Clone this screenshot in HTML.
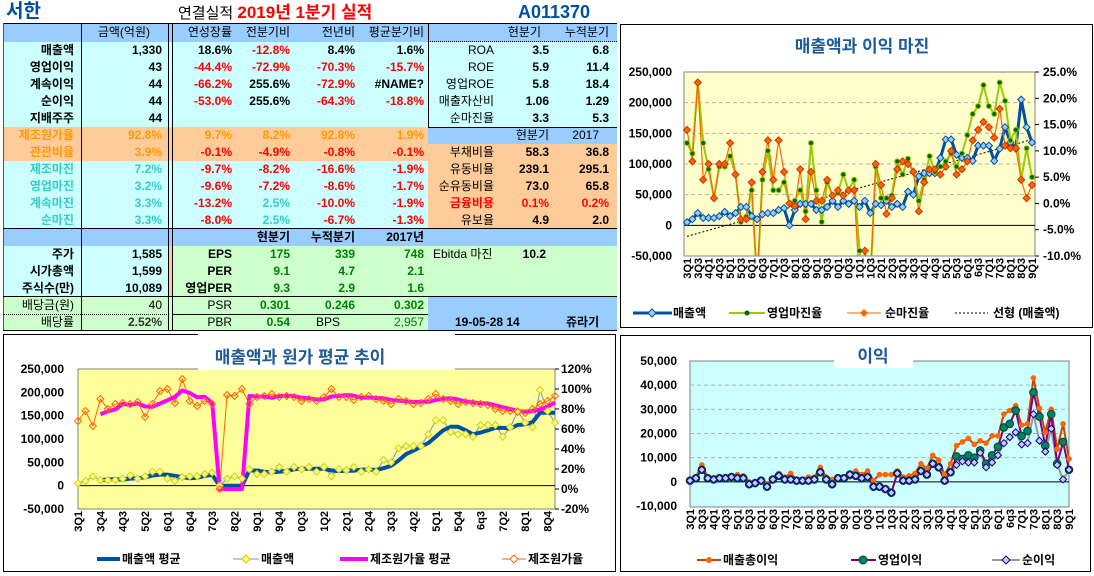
<!DOCTYPE html>
<html><head><meta charset="utf-8">
<style>
*{margin:0;padding:0;box-sizing:border-box}
body{width:1094px;height:576px;background:#fff;position:relative;overflow:hidden;font-family:"Liberation Sans","Noto Sans CJK KR",sans-serif;font-weight:bold;font-size:12px;color:#000}
.a{position:absolute}
.r{position:absolute;height:17px;line-height:17px;white-space:nowrap;overflow:visible}
.c0{left:3px;width:71px;text-align:right}
.c1{left:82px;width:80px;text-align:right}
.c2{left:175px;width:57px;text-align:right}
.c3{left:235px;width:55px;text-align:right}
.c4{left:292px;width:63px;text-align:right}
.c5{left:358px;width:66px;text-align:right}
.c6{left:430px;width:64px;text-align:right;font-weight:normal}
.c7{left:496px;width:53px;text-align:right}
.c8{left:551px;width:58px;text-align:right}
.red{color:#ff0000}.org{color:#ff9900}.cy{color:#33cccc}.grn{color:#008000}
.n{font-weight:normal}
svg text{font-family:"Liberation Sans","Noto Sans CJK KR",sans-serif}
</style></head><body>
<!-- header -->
<div class="a" style="left:6px;top:0;font-size:19px;color:#0050a0;line-height:24px">서한</div>
<div class="a" style="left:178px;top:2px;font-size:15px;line-height:22px"><span class="n" style="font-weight:normal">연결실적</span> <span style="color:#ff0000;font-size:17px">2019년 1분기 실적</span></div>
<div class="a" style="left:518px;top:0;font-size:18px;color:#0050a0;line-height:24px">A011370</div>

<!-- backgrounds -->
<div class="a" style="left:3px;top:24px;width:614px;height:18px;background:#99ccff"></div>
<div class="a" style="left:3px;top:42px;width:614px;height:85px;background:#ccffff"></div>
<div class="a" style="left:3px;top:127px;width:425px;height:34px;background:#ffcc99"></div>
<div class="a" style="left:428px;top:127px;width:189px;height:17px;background:#99ccff"></div>
<div class="a" style="left:428px;top:144px;width:189px;height:85px;background:#ffcc99"></div>
<div class="a" style="left:3px;top:161px;width:425px;height:68px;background:#ccffff"></div>
<div class="a" style="left:3px;top:229px;width:614px;height:17px;background:#99ccff"></div>
<div class="a" style="left:3px;top:246px;width:167px;height:51px;background:#ccffff"></div>
<div class="a" style="left:169px;top:246px;width:4px;height:51px;background:#ffcc99"></div>
<div class="a" style="left:173px;top:246px;width:444px;height:51px;background:#ccffcc"></div>
<div class="a" style="left:3px;top:297px;width:425px;height:34px;background:#ccffcc"></div>
<div class="a" style="left:428px;top:297px;width:189px;height:34px;background:#99ccff"></div>
<!-- lines -->
<div class="a" style="left:3px;top:23px;width:614px;height:1px;background:#000"></div>
<div class="a" style="left:3px;top:23px;width:1px;height:308px;background:#555"></div>
<div class="a" style="left:81px;top:24px;width:1px;height:307px;background:#000"></div>
<div class="a" style="left:168px;top:24px;width:1px;height:307px;background:#000"></div>
<div class="a" style="left:172px;top:24px;width:1px;height:307px;background:#000"></div>
<div class="a" style="left:428px;top:24px;width:1px;height:103px;background:#000"></div>
<div class="a" style="left:428px;top:41px;width:189px;height:0;border-top:1px dotted #000"></div>
<div class="a" style="left:428px;top:228px;width:189px;height:1px;background:#000"></div>
<div class="a" style="left:428px;top:127px;width:189px;height:1px;background:#000"></div>
<div class="a" style="left:3px;top:228px;width:425px;height:1px;background:#000"></div>
<div class="a" style="left:3px;top:296px;width:614px;height:1px;background:#000"></div>
<div class="a" style="left:3px;top:314px;width:166px;height:0;border-top:1px dotted #000"></div>
<div class="a" style="left:173px;top:314px;width:255px;height:1px;background:#000"></div>
<div class="a" style="left:3px;top:330px;width:614px;height:1px;background:#000"></div>

<!-- rows -->
<div class="r c1 n" style="top:24px;font-weight:normal;width:68px">금액(억원)</div>
<div class="r c2 n" style="top:24px;font-weight:normal">연성장률</div>
<div class="r c3 n" style="top:24px;font-weight:normal">전분기비</div>
<div class="r c4 n" style="top:24px;font-weight:normal">전년비</div>
<div class="r c5 n" style="top:24px;font-weight:normal">평균분기비</div>
<div class="r c7 n" style="top:24px;font-weight:normal;width:45px">현분기</div>
<div class="r c8 n" style="top:24px;font-weight:normal">누적분기</div>

<div class="r c0" style="top:42px">매출액</div><div class="r c1" style="top:42px">1,330</div><div class="r c2" style="top:42px">18.6%</div><div class="r c3 red" style="top:42px">-12.8%</div><div class="r c4" style="top:42px">8.4%</div><div class="r c5" style="top:42px">1.6%</div><div class="r c6" style="top:42px">ROA</div><div class="r c7" style="top:42px">3.5</div><div class="r c8" style="top:42px">6.8</div>
<div class="r c0" style="top:59px">영업이익</div><div class="r c1" style="top:59px">43</div><div class="r c2 red" style="top:59px">-44.4%</div><div class="r c3 red" style="top:59px">-72.9%</div><div class="r c4 red" style="top:59px">-70.3%</div><div class="r c5 red" style="top:59px">-15.7%</div><div class="r c6" style="top:59px">ROE</div><div class="r c7" style="top:59px">5.9</div><div class="r c8" style="top:59px">11.4</div>
<div class="r c0" style="top:76px">계속이익</div><div class="r c1" style="top:76px">44</div><div class="r c2 red" style="top:76px">-66.2%</div><div class="r c3" style="top:76px">255.6%</div><div class="r c4 red" style="top:76px">-72.9%</div><div class="r c5" style="top:76px">#NAME?</div><div class="r c6" style="top:76px">영업ROE</div><div class="r c7" style="top:76px">5.8</div><div class="r c8" style="top:76px">18.4</div>
<div class="r c0" style="top:93px">순이익</div><div class="r c1" style="top:93px">44</div><div class="r c2 red" style="top:93px">-53.0%</div><div class="r c3" style="top:93px">255.6%</div><div class="r c4 red" style="top:93px">-64.3%</div><div class="r c5 red" style="top:93px">-18.8%</div><div class="r c6" style="top:93px">매출자산비</div><div class="r c7" style="top:93px">1.06</div><div class="r c8" style="top:93px">1.29</div>
<div class="r c0" style="top:110px">지배주주</div><div class="r c1" style="top:110px">44</div><div class="r c6" style="top:110px">순마진율</div><div class="r c7" style="top:110px">3.3</div><div class="r c8" style="top:110px">5.3</div>
<div class="r c0 org" style="top:127px">제조원가율</div><div class="r c1 org" style="top:127px">92.8%</div><div class="r c2 org" style="top:127px">9.7%</div><div class="r c3 org" style="top:127px">8.2%</div><div class="r c4 org" style="top:127px">92.8%</div><div class="r c5 org" style="top:127px">1.9%</div><div class="r c7" style="top:127px;font-weight:normal">현분기</div><div class="r c8" style="top:127px;font-weight:normal;width:48px">2017</div>
<div class="r c0 org" style="top:144px">관관비율</div><div class="r c1 org" style="top:144px">3.9%</div><div class="r c2 red" style="top:144px">-0.1%</div><div class="r c3 red" style="top:144px">-4.9%</div><div class="r c4 red" style="top:144px">-0.8%</div><div class="r c5 red" style="top:144px">-0.1%</div><div class="r c6" style="top:144px">부채비율</div><div class="r c7" style="top:144px">58.3</div><div class="r c8" style="top:144px">36.8</div>
<div class="r c0 cy" style="top:161px">제조마진</div><div class="r c1 cy" style="top:161px">7.2%</div><div class="r c2 red" style="top:161px">-9.7%</div><div class="r c3 red" style="top:161px">-8.2%</div><div class="r c4 red" style="top:161px">-16.6%</div><div class="r c5 red" style="top:161px">-1.9%</div><div class="r c6" style="top:161px">유동비율</div><div class="r c7" style="top:161px">239.1</div><div class="r c8" style="top:161px">295.1</div>
<div class="r c0 cy" style="top:178px">영업마진</div><div class="r c1 cy" style="top:178px">3.2%</div><div class="r c2 red" style="top:178px">-9.6%</div><div class="r c3 red" style="top:178px">-7.2%</div><div class="r c4 red" style="top:178px">-8.6%</div><div class="r c5 red" style="top:178px">-1.7%</div><div class="r c6" style="top:178px">순유동비율</div><div class="r c7" style="top:178px">73.0</div><div class="r c8" style="top:178px">65.8</div>
<div class="r c0 cy" style="top:195px">계속마진</div><div class="r c1 cy" style="top:195px">3.3%</div><div class="r c2 red" style="top:195px">-13.2%</div><div class="r c3 cy" style="top:195px">2.5%</div><div class="r c4 red" style="top:195px">-10.0%</div><div class="r c5 red" style="top:195px">-1.9%</div><div class="r c6 red" style="top:195px;font-weight:bold">금융비용</div><div class="r c7 red" style="top:195px">0.1%</div><div class="r c8 red" style="top:195px">0.2%</div>
<div class="r c0 cy" style="top:212px">순마진</div><div class="r c1 cy" style="top:212px">3.3%</div><div class="r c2 red" style="top:212px">-8.0%</div><div class="r c3 cy" style="top:212px">2.5%</div><div class="r c4 red" style="top:212px">-6.7%</div><div class="r c5 red" style="top:212px">-1.3%</div><div class="r c6" style="top:212px">유보율</div><div class="r c7" style="top:212px">4.9</div><div class="r c8" style="top:212px">2.0</div>
<div class="r c3" style="top:229px">현분기</div><div class="r c4" style="top:229px">누적분기</div><div class="r c5" style="top:229px">2017년</div>
<div class="r c0" style="top:246px">주가</div><div class="r c1" style="top:246px">1,585</div><div class="r c2" style="top:246px">EPS</div><div class="r c3 grn" style="top:246px">175</div><div class="r c4 grn" style="top:246px">339</div><div class="r c5 grn" style="top:246px">748</div><div class="r" style="top:246px;left:433px;font-weight:normal">Ebitda 마진</div><div class="r c7" style="top:246px;width:50px">10.2</div>
<div class="r c0" style="top:263px">시가총액</div><div class="r c1" style="top:263px">1,599</div><div class="r c2" style="top:263px">PER</div><div class="r c3 grn" style="top:263px">9.1</div><div class="r c4 grn" style="top:263px">4.7</div><div class="r c5 grn" style="top:263px">2.1</div>
<div class="r c0" style="top:280px">주식수(만)</div><div class="r c1" style="top:280px">10,089</div><div class="r c2" style="top:280px">영업PER</div><div class="r c3 grn" style="top:280px">9.3</div><div class="r c4 grn" style="top:280px">2.9</div><div class="r c5 grn" style="top:280px">1.6</div>
<div class="r c0 n" style="top:297px;font-weight:normal">배당금(원)</div><div class="r c1 n" style="top:297px;font-weight:normal">40</div><div class="r c2 n" style="top:297px;font-weight:normal">PSR</div><div class="r c3 grn" style="top:297px">0.301</div><div class="r c4 grn" style="top:297px">0.246</div><div class="r c5 grn" style="top:297px">0.302</div>
<div class="r c0 n" style="top:314px;font-weight:normal">배당률</div><div class="r c1" style="top:314px;color:#333">2.52%</div><div class="r c2 n" style="top:314px;font-weight:normal">PBR</div><div class="r c3 grn" style="top:314px">0.54</div><div class="r n" style="top:314px;left:316px;font-weight:normal">BPS</div><div class="r c5 grn n" style="top:314px;font-weight:normal">2,957</div>
<div class="r" style="top:314px;left:455px">19-05-28 14</div><div class="r" style="top:314px;left:566px">쥬라기</div>

<svg class="a" style="left:0;top:0" width="1094" height="576" id="s" xmlns="http://www.w3.org/2000/svg">
<defs>
<clipPath id="k1"><rect x="684" y="72" width="351" height="184"/></clipPath>
<clipPath id="k2"><rect x="78" y="369" width="477" height="140"/></clipPath>
<clipPath id="k3"><rect x="690" y="361" width="379" height="146"/></clipPath>
</defs>
<rect x="620.5" y="24.5" width="472" height="303" fill="#fff" stroke="#000"/>
<rect x="3.5" y="334.5" width="612" height="237" fill="#fff" stroke="#000"/>
<rect x="620.5" y="335.5" width="470" height="236" fill="#fff" stroke="#000"/>
<rect x="684" y="72" width="351" height="184" fill="#ffffcc" stroke="#808080"/>
<rect x="78" y="369" width="477" height="140" fill="#ffff99" stroke="#808080"/>
<rect x="690" y="361" width="379" height="146" fill="#ccffff" stroke="#808080"/>
<g id="g"></g>
<rect x="198" y="334" width="257" height="36" fill="#fff"/>
<rect x="834" y="340" width="79" height="28" fill="#fff"/>
<text x="862" y="52" font-size="17" font-weight="bold" fill="#1c5a9a" text-anchor="middle">매출액과 이익 마진</text>
<text x="300" y="363" font-size="17" font-weight="bold" fill="#1c5a9a" text-anchor="middle">매출액과 원가 평균 추이</text>
<text x="873" y="362" font-size="17" font-weight="bold" fill="#1c5a9a" text-anchor="middle">이익</text>
<g font-size="12" font-weight="bold">
<line x1="633" y1="313" x2="672" y2="313" stroke="#0050a0" stroke-width="3"/><path d="M652 309l4 4-4 4-4-4z" fill="#99ccff" stroke="#0050a0"/><text x="673" y="317">매출액</text>
<line x1="729" y1="313" x2="765" y2="313" stroke="#99cc00" stroke-width="2"/><circle cx="747" cy="313" r="2.5" fill="#006600"/><text x="767" y="317">영업마진율</text>
<line x1="847" y1="313" x2="881" y2="313" stroke="#ff6600"/><path d="M864 309l4 4-4 4-4-4z" fill="#ff6600"/><text x="885" y="317">순마진율</text>
<line x1="955" y1="313" x2="988" y2="313" stroke="#000" stroke-dasharray="2,2"/><text x="993" y="317">선형 (매출액)</text>
<line x1="97" y1="559" x2="120" y2="559" stroke="#0050a0" stroke-width="4"/><text x="122" y="563">매출액 평균</text>
<line x1="233" y1="559" x2="259" y2="559" stroke="#6699cc"/><path d="M246 555l4 4-4 4-4-4z" fill="#ffff66" stroke="#cccc00"/><text x="261" y="563">매출액</text>
<line x1="340" y1="559" x2="368" y2="559" stroke="#ff00ff" stroke-width="4"/><text x="370" y="563">제조원가율 평균</text>
<line x1="502" y1="559" x2="526" y2="559" stroke="#ff6600"/><path d="M514 555l4 4-4 4-4-4z" fill="#fff" stroke="#ff6600"/><text x="528" y="563">제조원가율</text>
<line x1="697" y1="560" x2="721" y2="560" stroke="#cc4400" stroke-width="2"/><circle cx="709" cy="560" r="3" fill="#ff6600"/><text x="723" y="564">매출총이익</text>
<line x1="851" y1="560" x2="876" y2="560" stroke="#800080" stroke-width="2"/><circle cx="863" cy="560" r="4" fill="#008066" stroke="#004433"/><text x="878" y="564">영업이익</text>
<line x1="992" y1="560" x2="1020" y2="560" stroke="#999" stroke-width="2"/><path d="M1006 556l4 4-4 4-4-4z" fill="#ccccff" stroke="#000080"/><text x="1022" y="564">순이익</text>
</g>
</svg>
<script>
var NS="http://www.w3.org/2000/svg",G=document.getElementById("g");
function el(t,a,p){var e=document.createElementNS(NS,t);for(var k in a)e.setAttribute(k,a[k]);(p||G).appendChild(e);return e}
function tx(x,y,s,a){var e=el("text",Object.assign({x:x,y:y,"font-size":12,"font-weight":"bold"},a||{}));e.textContent=s;return e}
var S=[5,10,20,12,12,12,15,22,15,20,30,30,15,10,18,20,20,25,28,0,25,35,35,35,25,25,30,40,30,40,35,40,30,40,20,35,33,40,30,35,30,55,50,80,85,85,85,110,140,140,115,110,110,105,130,130,130,105,125,160,135,125,205,160,135];
var OM=[11.5,9.5,23,11.5,6.5,1,7,7,9,5.5,-3.5,-2.5,2.5,-15,4.5,10,2.5,2.5,4,0,0.5,2.5,-1.5,11.5,2.5,-3.5,4,1.5,2,5.5,2.5,4.5,-9,-15,-15,7,1,1,1.5,8,5.5,8.5,6,0.5,4.5,9,6,7,8,9.5,7,9.5,13,17,18.5,22.5,18.5,17,23,19.5,12,14,4.5,10.5,5];
var NM=[14,8,23,4.5,7.5,1,7.5,7.5,11.5,5.5,-3,-3,4,-15,6,12,4.5,12,6,0,-0.5,6.5,-3,6,0.5,0.5,4.5,1.5,2.5,1.5,2.5,2.5,-15,-9,-15,7.5,3.5,-2,1,6.5,8,7.5,6,-1.5,4,6.5,6.5,5.5,7,10,5.5,6.5,8,12,14,15.5,14.5,12.5,18,11,10.5,10.5,4.5,1,3.5];
var CR=[68,78,63,90,80,85,86,85,87,72,85,98,100,86,110,88,83,88,85,0,94,93,100,85,92,93,95,92,93,92,88,90,88,92,100,92,92,89,92,93,90,88,85,90,88,85,86,90,95,90,88,85,87,86,85,84,80,78,78,77,76,80,85,88,93];
var GP=[1,2,7,2,1.5,2,2,2.5,3,2.5,0,-0.5,1,-1,1,3.5,2,3.5,1,0.5,2,2,6,2,1,2,2,2,4.5,3,4.5,0.5,3,3,3,4.5,2,2.5,3.5,7.5,5.5,11,9,3,7.5,15,16.5,18,15.5,17,16,19,19,28,29.5,31.5,23.5,24,43,30.5,20.5,30,13.5,24,9.5];
var OP=[0.5,1.5,5,1.5,1,1.5,1.5,2,1.5,1.5,-1,-0.5,0.5,-2,1,2.5,1,1,0.5,0.5,0.5,1,4,1,-1,1.5,1.5,3,2.5,1.5,2,-2,-2,-3,-4.5,3.5,0.5,0.5,1,4.5,3,7.5,6,0.5,4,10.5,9.5,11,10,13,7.5,11,14.5,22.5,24,29.5,19,21,37,27,15,28,7.5,16.5,5];
var NP=OP.slice();[[53,16],[54,18.5],[55,20.5],[56,15.5],[57,16],[58,28],[59,17],[60,12.5],[61,22],[62,7],[63,1],[64,5],[45,7],[46,8.5],[47,8],[48,8],[49,12],[50,6],[51,8],[52,11]].forEach(function(p){NP[p[0]]=p[1]});
function ma(a){var r=[];for(var i=0;i<a.length;i++){if(i<3){r.push(null);continue}r.push((a[i]+a[i-1]+a[i-2]+a[i-3])/4)}return r}
function line(xs,ys,st,clip){var p=[];for(var i=0;i<xs.length;i++)if(ys[i]!=null)p.push(xs[i].toFixed(1)+","+ys[i].toFixed(1));var a=Object.assign({points:p.join(" "),fill:"none","clip-path":"url(#"+clip+")","stroke-linejoin":"round"},st);el("polyline",a)}
function dia(x,y,r,f,s){el("path",{d:"M"+x+" "+(y-r)+"l"+r+" "+r+"-"+r+" "+r+"-"+r+"-"+r+"z",fill:f,stroke:s,"stroke-width":1})}
function inb(y,a,b){return y>=a-1&&y<=b+1}
var L33=["3Q1","3Q3","4Q1","4Q3","5Q1","5Q3","6Q1","6Q3","7Q1","7Q3","8Q1","8Q3","9Q1","9Q3","0Q1","0Q3","1Q1","1Q3","2Q1","2Q3","3Q1","3Q3","4Q1","4Q3","5Q1","5Q3","6Q1","6q3","7Q1","7Q3","8Q1","8Q3","9Q1"];
// chart 1
(function(){var x0=687,x1=1032,yt=72,yb=256,n=65;
function X(i){return x0+i*(x1-x0)/(n-1)}function YL(v){return yt+(250-v)/300*(yb-yt)}function YR(v){return yt+(25-v)/35*(yb-yt)}
for(var v=-50;v<=250;v+=50){var y=YL(v);if(v>-50&&v<250)el("line",{x1:684,x2:1035,y1:y,y2:y,stroke:v==0?"#000":"#b0b0b0","stroke-dasharray":v==0?"":"4,3"});tx(672,y+4,v==0?"0":(v*1000).toLocaleString("en-US").replace("-","-"),{"text-anchor":"end"})}
for(var v=-10;v<=25;v+=5){var y=YR(v);el("line",{x1:1035,x2:1039,y1:y,y2:y,stroke:"#000"});tx(1043,y+4,v.toFixed(1)+"%")}
for(var i=0;i<33;i++){var x=X(2*i);tx(x+4,258,L33[i],{"text-anchor":"end",transform:"rotate(-90 "+(x+4)+" 258)","font-size":11})}
var xs=[];for(var i=0;i<n;i++)xs.push(X(i));
el("line",{x1:X(0),y1:YL(-18),x2:X(64),y2:YL(140),stroke:"#000","stroke-dasharray":"2,2","clip-path":"url(#k1)"});
line(xs,S.map(YL),{stroke:"#0050a0","stroke-width":3},"k1");
line(xs,OM.map(YR),{stroke:"#99cc00","stroke-width":2},"k1");
line(xs,NM.map(YR),{stroke:"#ff6600","stroke-width":1.2},"k1");
for(var i=0;i<n;i++){var y=YL(S[i]);if(inb(y,yt,yb))dia(xs[i],y,3.5,"#99ccff","#0050a0")}
for(var i=0;i<n;i++){var y=YR(OM[i]);if(inb(y,yt,yb))el("circle",{cx:xs[i],cy:y,r:2.5,fill:"#006600",stroke:"#99cc00"})}
for(var i=0;i<n;i++){var y=YR(NM[i]);if(inb(y,yt,yb))dia(xs[i],y,3.5,"#ff6600","#cc3300")}
})();
// chart 2
(function(){var x0=78,x1=555,yt=369,yb=509,n=65;
function X(i){return x0+i*(x1-x0)/(n-1)}function YL(v){return yt+(250-v)/300*(yb-yt)}function YR(v){return yt+(120-v)/140*(yb-yt)}
for(var v=-50;v<=250;v+=50){var y=YL(v);if(v==0)el("line",{x1:78,x2:555,y1:y,y2:y,stroke:"#000"});tx(64,y+4,v==0?"0":(v*1000).toLocaleString("en-US"),{"text-anchor":"end"})}
for(var v=-20;v<=120;v+=20){var y=YR(v);el("line",{x1:555,x2:559,y1:y,y2:y,stroke:"#000"});tx(561,y+4,v+"%")}
var L=["3Q1","3Q4","4Q3","5Q2","6Q1","6Q4","7Q3","8Q2","9Q1","9Q4","0Q3","1Q2","2Q1","2Q4","3Q3","4Q2","5Q1","5Q4","6q3","7Q2","8Q1","8Q4"];
for(var i=0;i<L.length;i++){var x=X(3*i);tx(x+4,511,L[i],{"text-anchor":"end",transform:"rotate(-90 "+(x+4)+" 511)","font-size":11})}
var xs=[];for(var i=0;i<n;i++)xs.push(X(i));
var SA=ma(S),CA=ma(CR);for(var i=19;i<=22;i++){SA[i]=0;CA[i]=0}
var S2=S.slice();S2[20]=15;S2[21]=20;S2[22]=15;
line(xs,S2.map(YL),{stroke:"#6699cc","stroke-width":1},"k2");
line(xs,SA.map(function(v){return v==null?null:YL(v)}),{stroke:"#0050a0","stroke-width":4},"k2");
line(xs,CR.map(YR),{stroke:"#ff6600","stroke-width":1},"k2");
line(xs,CA.map(function(v){return v==null?null:YR(v)}),{stroke:"#ff00ff","stroke-width":4},"k2");
for(var i=0;i<n;i++){dia(xs[i],YL(S2[i]),3.5,"#ffff66","#cccc33")}
for(var i=0;i<n;i++){dia(xs[i],YR(CR[i]),3.5,"none","#ff6600")}
})();
// chart 3
(function(){var x0=690,x1=1069,yt=361,yb=506,n=65;
function X(i){return x0+i*(x1-x0)/(n-1)}function Y(v){return yt+(50-v)/60*(yb-yt)}
for(var v=-10;v<=50;v+=10){var y=Y(v);if(v>-10&&v<50)el("line",{x1:690,x2:1069,y1:y,y2:y,stroke:v==0?"#000":"#b0b0b0","stroke-dasharray":v==0?"":"4,3"});tx(677,y+4,v==0?"0":(v*1000).toLocaleString("en-US"),{"text-anchor":"end"})}
for(var i=0;i<33;i++){var x=X(2*i);tx(x+4,509,L33[i],{"text-anchor":"end",transform:"rotate(-90 "+(x+4)+" 509)","font-size":11})}
var xs=[];for(var i=0;i<n;i++)xs.push(X(i));
line(xs,GP.map(Y),{stroke:"#cc4400","stroke-width":2},"k3");
line(xs,NP.map(Y),{stroke:"#999","stroke-width":2},"k3");
line(xs,OP.map(Y),{stroke:"#800080","stroke-width":2},"k3");
for(var i=0;i<n;i++)el("circle",{cx:xs[i],cy:Y(GP[i]),r:2.8,fill:"#ff6600"});
for(var i=0;i<n;i++)el("circle",{cx:xs[i],cy:Y(OP[i]),r:3.8,fill:"#008066",stroke:"#004433"});
for(var i=0;i<n;i++)dia(xs[i],Y(NP[i]),3.5,"#ccccff","#000080");
})();
</script>
</body></html>
